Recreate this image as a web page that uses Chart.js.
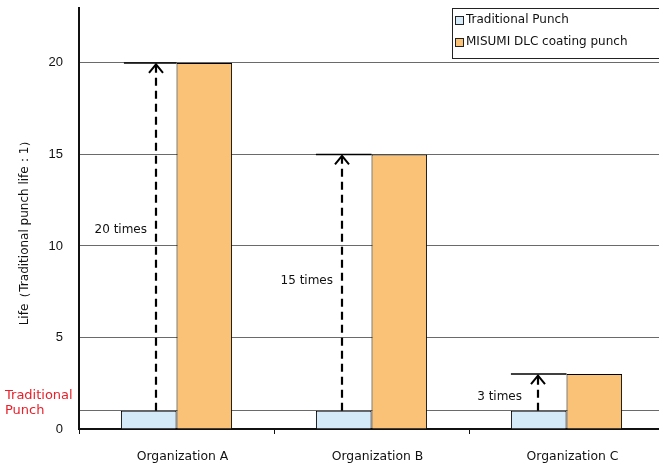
<!DOCTYPE html>
<html>
<head>
<meta charset="utf-8">
<script src="https://cdn.jsdelivr.net/npm/chart.js@4"></script>
<style>
  body { margin: 0; background: #fff; overflow: hidden; }
  #wrap { width: 659px; height: 464px; overflow: hidden; }
</style>
</head>
<body>
<div id="wrap"><canvas id="chart" width="664" height="464"></canvas></div>
<script>
'use strict';

let organizations = ['Organization A', 'Organization B', 'Organization C'];
let traditionalLife = [1, 1, 1];
let dlcLife = [20, 15, 3];
let timesLabels = ['20 times', '15 times', '3 times'];
let yTicks = [0, 1, 5, 10, 15, 20];

const FONT = '"DejaVu Sans", sans-serif';
const TICK_FONT = '"Liberation Sans", Arial, sans-serif';
// placement tweaks for the hand drawn arrows and their labels
const arrowShift = [7, -2, -1];
const labelGap = [9, 9, 16];
const labelAt = [10.9, 8.1, 1.75];

// arrows, bar-top lines, "x times" text, red label and the axis title
const annotations = {
  id: 'annotations',
  afterDatasetsDraw(chart) {
    let ctx = chart.ctx;
    let y = chart.scales.y;
    let metaT = chart.getDatasetMeta(0);
    let metaD = chart.getDatasetMeta(1);
    ctx.save();
    for (let i = 0; i < organizations.length; i++) {
      let bT = metaT.data[i];
      let bD = metaD.data[i];
      let left = bT.x - bT.width / 2;
      let yTop = y.getPixelForValue(dlcLife[i]);
      let yBase = y.getPixelForValue(traditionalLife[i]);
      let ax = Math.round(bT.x + arrowShift[i]);

      // horizontal line at the DLC value
      ctx.strokeStyle = '#000';
      ctx.lineWidth = 1.5;
      ctx.setLineDash([]);
      ctx.beginPath();
      ctx.moveTo(left + (i === 0 ? 3 : 0), yTop);
      ctx.lineTo(bD.x - bD.width / 2, yTop);
      ctx.stroke();

      // dashed shaft
      ctx.lineWidth = 2.2;
      ctx.setLineDash([8, 5]);
      ctx.beginPath();
      ctx.moveTo(ax, yBase);
      ctx.lineTo(ax, yTop + 2);
      ctx.stroke();

      // open arrow head
      ctx.lineWidth = 2;
      ctx.setLineDash([]);
      ctx.beginPath();
      ctx.moveTo(ax - 7, yTop + 10);
      ctx.lineTo(ax, yTop + 1.5);
      ctx.lineTo(ax + 7, yTop + 10);
      ctx.stroke();

      // label
      ctx.fillStyle = '#111';
      ctx.font = '12px ' + FONT;
      ctx.textAlign = 'right';
      ctx.textBaseline = 'middle';
      ctx.fillText(timesLabels[i], ax - labelGap[i], y.getPixelForValue(labelAt[i]));
    }

    // red label next to the y = 1 line
    ctx.fillStyle = '#e8202a';
    ctx.font = '13px ' + FONT;
    ctx.textAlign = 'left';
    ctx.textBaseline = 'middle';
    let y1 = y.getPixelForValue(1);
    ctx.fillText('Traditional', 5, y1 - 15);
    ctx.fillText('Punch', 5, y1);

    // y axis title
    ctx.fillStyle = '#111';
    ctx.font = '12px ' + FONT;
    ctx.textAlign = 'center';
    ctx.translate(25, 230);
    ctx.rotate(-Math.PI / 2);
    ctx.fillText('Life（Traditional punch life：1）', 0, 0);
    ctx.restore();
  }
};

// legend box in the top right corner (runs off the right edge like the original)
const boxLegend = {
  id: 'boxLegend',
  afterDraw(chart) {
    let ctx = chart.ctx;
    let sets = chart.data.datasets;
    let bx = 452, by = 8, bw = 220, bh = 50;
    ctx.save();
    ctx.fillStyle = '#fff';
    ctx.fillRect(bx, by, bw, bh);
    ctx.strokeStyle = '#222';
    ctx.lineWidth = 1;
    ctx.strokeRect(bx + 0.5, by + 0.5, bw, bh);
    ctx.font = '12px ' + FONT;
    ctx.textBaseline = 'middle';
    ctx.textAlign = 'left';
    for (let i = 0; i < sets.length; i++) {
      let cy = by + 12 + i * 22;
      ctx.fillStyle = sets[i].backgroundColor;
      ctx.fillRect(bx + 3.5, cy - 3.5, 8, 8);
      ctx.strokeStyle = '#222';
      ctx.strokeRect(bx + 3.5, cy - 3.5, 8, 8);
      ctx.fillStyle = '#111';
      ctx.fillText(sets[i].label, bx + 14, cy);
    }
    ctx.restore();
  }
};

const data = {
  labels: organizations,
  datasets: [
    {
      label: 'Traditional Punch',
      data: traditionalLife,
      backgroundColor: '#d5eaf8',
      borderColor: '#000',
      borderWidth: 1,
      barPercentage: 1,
      categoryPercentage: 0.57
    },
    {
      label: 'MISUMI DLC coating punch',
      data: dlcLife,
      backgroundColor: '#f9c276',
      borderColor: '#000',
      borderWidth: 1,
      barPercentage: 1,
      categoryPercentage: 0.57
    }
  ]
};

const config = {
  type: 'bar',
  data: data,
  options: {
    responsive: false,
    animation: false,
    layout: { padding: { top: 8, right: 0, left: 0, bottom: 0 } },
    plugins: {
      legend: { display: false },
      tooltip: { enabled: false }
    },
    scales: {
      x: {
        border: { color: '#111', width: 2 },
        grid: { offset: true, drawOnChartArea: false, drawTicks: true, tickLength: 5, color: '#111' },
        ticks: { color: '#111', padding: 15, labelOffset: 6, font: { size: 12.4, family: FONT } },
        afterFit(scale) {
          scale.height = 35;
          scale.paddingLeft = 0;
          scale.paddingRight = 0;
        }
      },
      y: {
        min: 0,
        max: 23,
        border: { color: '#111', width: 2 },
        grid: { color: '#6a6a6a', lineWidth: 1, drawTicks: false },
        ticks: {
          color: '#111',
          padding: 16,
          font: { size: 13, family: TICK_FONT },
          callback: function (v) { return v === 1 ? '' : v; }
        },
        afterBuildTicks(scale) {
          scale.ticks = yTicks.map(v => ({ value: v }));
        },
        afterFit(scale) {
          scale.width = 79;
          scale.paddingTop = 0;
          scale.paddingBottom = 0;
        }
      }
    }
  },
  plugins: [annotations, boxLegend]
};

new Chart(document.getElementById('chart'), config);
</script>
</body>
</html>
